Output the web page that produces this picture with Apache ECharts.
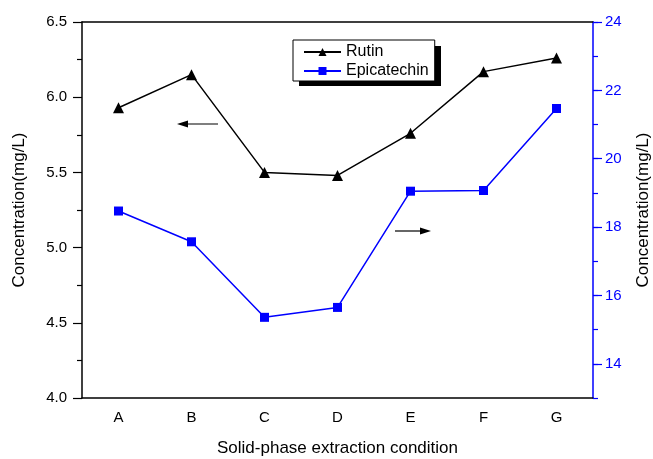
<!DOCTYPE html>
<html>
<head>
<meta charset="utf-8">
<script src="https://cdn.jsdelivr.net/npm/echarts@6/dist/echarts.min.js"></script>
<style>
  html, body { margin: 0; padding: 0; background: #fff; }
  #main { width: 653px; height: 459px; }
</style>
</head>
<body>
<div id="main"></div>
<script>
// 条件
var conditions = ['A', 'B', 'C', 'D', 'E', 'F', 'G'];
// 左轴 Rutin
var rutin = [5.93, 6.15, 5.50, 5.48, 5.76, 6.17, 6.26];
// 右轴 Epicatechin
var epicatechin = [18.47, 17.57, 15.36, 15.65, 19.05, 19.07, 21.47];
// 右轴刻度标签
var rightLabels = [14, 16, 18, 20, 22, 24];

var font = 'Liberation Sans, Arial, sans-serif';
var myChart = echarts.init(document.getElementById('main'));

// 箭头 (注释)
function arrow(x1, x2, y) {
  var dir = x2 > x1 ? 1 : -1;
  return {
    type: 'group',
    children: [
      { type: 'line', shape: { x1: x1, y1: y, x2: x2 - dir * 8, y2: y },
        style: { stroke: '#000', lineWidth: 1.2 } },
      { type: 'polygon', shape: { points: [[x2, y], [x2 - dir * 11, y - 3.5], [x2 - dir * 11, y + 3.5]] },
        style: { fill: '#000' } }
    ]
  };
}

var option = {
  animation: false,
  textStyle: { fontFamily: font },
  grid: { left: 82, right: 60, top: 22, bottom: 61, outerBoundsMode: 'none', containLabel: false },
  legend: {
    orient: 'vertical',
    left: 293,
    top: 40,
    z: 10,
    padding: [4, 6, 2, 10],
    itemGap: 3,
    itemWidth: 37,
    itemHeight: 10,
    backgroundColor: '#fff',
    borderColor: '#000',
    borderWidth: 1,
    borderRadius: 0,
    textStyle: { fontSize: 16, color: '#000', fontFamily: font },
    data: ['Rutin', 'Epicatechin']
  },
  xAxis: [
    {
      type: 'category',
      data: conditions,
      position: 'bottom',
      name: 'Solid-phase extraction condition',
      nameLocation: 'middle',
      nameGap: 42,
      nameTextStyle: { fontSize: 17, color: '#000' },
      axisLine: { lineStyle: { color: '#000', width: 1.5 } },
      axisTick: { alignWithLabel: true, length: 7, lineStyle: { color: '#000', width: 1.2 } },
      axisLabel: { fontSize: 15, color: '#000', margin: 12 },
      splitLine: { show: false }
    },
    {
      type: 'category',
      data: conditions,
      position: 'bottom',
      axisLine: { show: false },
      axisTick: { length: 4, lineStyle: { color: '#000', width: 1.2 } },
      axisLabel: { show: false },
      splitLine: { show: false }
    },
    {
      type: 'category',
      data: conditions,
      position: 'top',
      axisLine: { lineStyle: { color: '#000', width: 1.5 } },
      axisTick: { alignWithLabel: true, inside: true, length: 6, lineStyle: { color: '#000', width: 1.2 } },
      axisLabel: { show: false },
      splitLine: { show: false }
    }
  ],
  yAxis: [
    {
      type: 'value',
      position: 'left',
      min: 4,
      max: 6.5,
      interval: 0.5,
      name: 'Concentration(mg/L)',
      nameLocation: 'middle',
      nameGap: 54,
      nameTextStyle: { fontSize: 17, color: '#000' },
      axisLine: { show: true, lineStyle: { color: '#000', width: 1.5 } },
      axisTick: { show: true, length: 9, lineStyle: { color: '#000', width: 1.2 } },
      minorTick: { show: true, splitNumber: 2, length: 5, lineStyle: { color: '#000', width: 1.2 } },
      axisLabel: { fontSize: 15, color: '#000', margin: 15, formatter: function (v) { return v.toFixed(1); } },
      splitLine: { show: false }
    },
    {
      type: 'value',
      position: 'right',
      min: 13,
      max: 24,
      interval: 1,
      name: 'Concentration(mg/L)',
      nameLocation: 'middle',
      nameGap: 42,
      nameTextStyle: { fontSize: 17, color: '#000' },
      axisLine: { show: true, lineStyle: { color: '#0000ff', width: 1.5 } },
      axisTick: { show: true, length: 5, lineStyle: { color: '#0000ff', width: 1.2 } },
      axisLabel: { fontSize: 15, color: '#0000ff', margin: 12, customValues: rightLabels },
      splitLine: { show: false }
    },
    {
      type: 'value',
      position: 'right',
      min: 13,
      max: 24,
      interval: 1,
      axisLine: { show: false },
      axisTick: { show: true, length: 9, customValues: rightLabels, lineStyle: { color: '#0000ff', width: 1.2 } },
      axisLabel: { show: false },
      splitLine: { show: false }
    }
  ],
  series: [
    {
      name: 'Rutin',
      type: 'line',
      xAxisIndex: 0,
      yAxisIndex: 0,
      data: rutin,
      symbol: 'triangle',
      symbolSize: 11,
      itemStyle: { color: '#000' },
      lineStyle: { color: '#000', width: 1.5 }
    },
    {
      name: 'Epicatechin',
      type: 'line',
      xAxisIndex: 0,
      yAxisIndex: 1,
      data: epicatechin,
      symbol: 'rect',
      symbolSize: 9,
      itemStyle: { color: '#0000ff' },
      lineStyle: { color: '#0000ff', width: 1.5 }
    }
  ],
  graphic: [
    arrow(218, 177, 124),
    arrow(395, 431, 231),
    // 图例阴影
    { type: 'rect', z: 5, shape: { x: 299, y: 46, width: 142, height: 40 }, style: { fill: '#000' } }
  ]
};

myChart.setOption(option);
</script>
</body>
</html>
